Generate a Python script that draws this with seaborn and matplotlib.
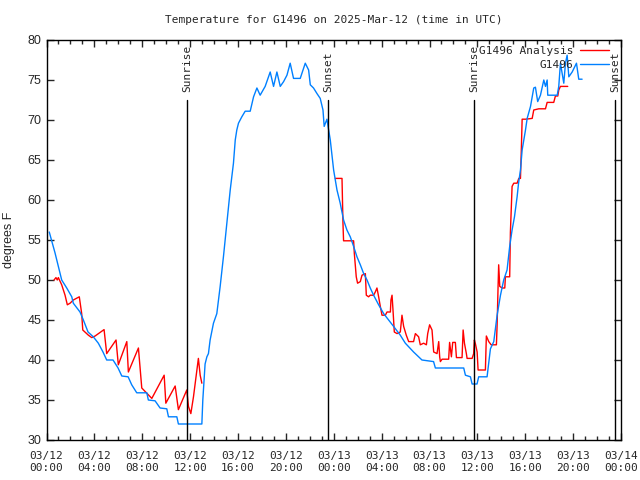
import pandas as pd
import matplotlib
matplotlib.use("Agg")
import matplotlib.pyplot as plt
import matplotlib.dates as mdates
import seaborn as sns

# hours after 2025-03-12 00:00 UTC, temperatures in degrees F
obs_hours = [0.23, 0.71, 1.27, 1.69, 2.11, 2.24, 2.80, 3.08, 3.47, 3.91, 4.33, 4.72, 5.03, 5.56,
             5.98, 6.29, 6.82, 7.12, 7.54, 8.38, 8.51, 9.07, 9.49, 10.05, 10.19, 10.89, 11.02,
             12.98, 13.06, 13.25, 13.40, 13.53, 13.67, 13.95, 14.23, 14.51, 14.79, 15.07, 15.35,
             15.62, 15.77, 15.90, 16.04, 16.32, 16.60, 17.02, 17.30, 17.58, 17.85, 18.27, 18.55,
             18.69, 18.97, 19.25, 19.53, 19.81, 20.09, 20.36, 20.64, 21.20, 21.62, 21.90, 22.04,
             22.31, 22.60, 22.87, 23.10, 23.20, 23.43, 23.71, 23.99, 24.27, 24.54, 24.82, 25.10,
             25.38, 25.66, 25.94, 26.22, 26.50, 26.78, 27.05, 27.33, 27.75, 28.17, 28.59, 29.00,
             29.56, 29.98, 30.67, 31.37, 32.34, 32.49, 34.86, 35.00, 35.42, 35.56, 35.97, 36.11,
             36.81, 37.09, 37.37, 37.65, 37.93, 38.20, 38.48, 38.70, 38.90, 39.10, 39.32, 39.44,
             39.60, 39.74, 40.02, 40.16, 40.44, 40.71, 40.85, 41.04, 41.27, 41.55, 41.69, 41.83,
             41.88, 42.67, 42.80, 42.94, 43.22, 43.36, 43.50, 43.64, 43.92, 44.28, 44.47, 44.75]
obs_temp = [56.0, 53.4, 50.0, 49.0, 47.9, 47.1, 46.0, 45.0, 43.5, 42.9, 42.1, 41.0, 40.0, 40.0,
            39.0, 38.0, 37.9, 36.9, 35.9, 35.9, 35.0, 34.9, 34.0, 33.9, 32.9, 32.9, 32.0,
            32.0, 35.0, 39.5, 40.4, 40.8, 42.5, 44.6, 45.8, 49.2, 53.0, 57.1, 61.25,
            64.6, 67.5, 68.75, 69.6, 70.4, 71.1, 71.1, 72.9, 74.0, 73.1, 74.2, 75.4,
            76.0, 74.2, 76.0, 74.2, 74.8, 75.6, 77.1, 75.2, 75.2, 77.1, 76.25, 74.4,
            74.0, 73.3, 72.7, 71.25, 69.2, 70.1, 67.5, 63.75, 61.25, 59.6, 57.5, 56.25,
            55.4, 54.2, 52.9, 51.9, 50.8, 50.0, 49.0, 48.1, 46.9, 45.8, 45.0, 44.2,
            43.1, 42.1, 41.0, 40.0, 39.8, 39.0, 39.0, 38.1, 37.9, 37.0, 37.0, 37.9,
            37.9, 41.4, 42.3, 45.6, 48.1, 50.0, 51.25, 54.2, 56.25, 57.9, 60.4, 62.1,
            63.75, 66.25, 68.75, 70.2, 71.7, 74.0, 74.1, 72.3, 73.1, 75.0, 74.2, 75.0,
            73.1, 73.1, 74.2, 77.1, 74.6, 77.1, 78.1, 75.4, 76.0, 77.1, 75.1, 75.1]

# analysis, first day (before the data gap)
ana_hours_1 = [0.63, 0.79, 0.90, 0.99, 1.27, 1.55, 1.74, 1.97, 2.24, 2.74, 2.94, 3.03, 3.50,
               3.78, 4.06, 4.81, 5.03, 5.81, 6.00, 6.71, 6.84, 7.68, 7.96, 8.80, 9.83, 9.97,
               10.75, 11.02, 11.72, 11.86, 12.06, 12.28, 12.69, 12.84, 12.98]
ana_temp_1 = [50.0, 50.3, 50.0, 50.3, 49.4, 48.1, 46.9, 47.1, 47.5, 47.9, 45.8, 43.75, 43.1,
              42.8, 43.0, 43.8, 40.8, 42.5, 39.4, 42.3, 38.5, 41.5, 36.5, 35.2, 38.1, 34.6,
              36.75, 33.8, 36.25, 34.2, 33.3, 35.4, 40.2, 38.1, 37.1]

# analysis, after the gap
ana_hours_2 = [24.13, 24.69, 24.77, 24.82, 25.66, 25.72, 25.88, 25.99, 26.22, 26.36, 26.64, 26.72,
               26.91, 27.05, 27.33, 27.47, 27.61, 27.75, 27.89, 28.03, 28.31, 28.45, 28.73, 28.78,
               28.87, 28.95, 29.06, 29.29, 29.56, 29.70, 29.84, 30.06, 30.26, 30.67, 30.82, 31.09,
               31.23, 31.51, 31.74, 31.85, 32.01, 32.21, 32.35, 32.63, 32.77, 32.85, 32.91, 33.05,
               33.60, 33.68, 33.83, 33.94, 34.16, 34.25, 34.72, 34.81, 34.92, 35.08, 35.14, 35.56,
               35.69, 35.75, 35.84, 35.98, 36.06, 36.67, 36.75, 36.95, 37.15, 37.59, 37.65, 37.73,
               37.78, 37.87, 38.07, 38.29, 38.34, 38.70, 38.76, 38.90, 39.04, 39.32, 39.46, 39.60,
               39.68, 39.74, 40.02, 40.58, 40.71, 41.13, 41.69, 41.83, 42.38, 42.52, 42.72, 42.80,
               42.94, 43.55]
ana_temp_2 = [62.7, 62.7, 57.1, 54.9, 54.9, 53.3, 50.4, 49.6, 49.8, 50.6, 50.8, 48.1,
              47.9, 48.1, 48.1, 48.5, 49.0, 47.9, 46.7, 45.6, 45.6, 46.0, 46.0, 47.5,
              48.1, 46.25, 43.5, 43.3, 43.5, 45.6, 44.2, 43.1, 42.3, 42.3, 43.3, 42.9,
              41.9, 42.1, 41.9, 43.3, 44.4, 43.75, 41.0, 40.8, 42.3, 40.4, 39.8, 40.1,
              40.1, 42.2, 40.4, 42.2, 42.2, 40.3, 40.3, 43.75, 42.1, 40.8, 40.2, 40.2,
              40.8, 42.5, 42.0, 41.0, 38.75, 38.75, 43.0, 42.3, 41.9, 41.9, 44.4, 49.2,
              51.9, 49.2, 49.0, 49.0, 50.4, 50.4, 56.0, 61.7, 62.1, 62.1, 62.7, 62.7,
              66.7, 70.1, 70.1, 70.2, 71.25, 71.4, 71.4, 72.2, 72.2, 73.0, 73.0, 73.75,
              74.2, 74.2]

sun_hours = [11.75, 23.5, 35.73, 47.5]
sun_labels = ["Sunrise", "Sunset", "Sunrise", "Sunset"]

start = pd.Timestamp("2025-03-12 00:00")


def to_frame(hours, temps):
    return pd.DataFrame({"time": start + pd.to_timedelta(hours, unit="h"), "temp": temps})


obs = to_frame(obs_hours, obs_temp)
ana1 = to_frame(ana_hours_1, ana_temp_1)
ana2 = to_frame(ana_hours_2, ana_temp_2)

sns.set_style("ticks")
plt.rcParams["font.family"] = ["DejaVu Sans Mono"]

fig = plt.figure(figsize=(6.4, 4.8), dpi=100)
ax = fig.add_axes([46.5 / 640, 40 / 480, 574.5 / 640, 400 / 480])

red = "#ff0000"
blue = "#0080ff"
sns.lineplot(data=ana1, x="time", y="temp", color=red, lw=1, ax=ax, label="G1496 Analysis")
sns.lineplot(data=ana2, x="time", y="temp", color=red, lw=1, ax=ax)
sns.lineplot(data=obs, x="time", y="temp", color=blue, lw=1, ax=ax, label="G1496")

# sunrise / sunset markers
for h, lab in zip(sun_hours, sun_labels):
    t = start + pd.Timedelta(hours=h)
    ax.plot([t, t], [30, 72.5], color="black", lw=1)
    ax.text(t, 73.5, lab, rotation=90, ha="center", va="bottom", fontsize=8)

ax.set_xlim(start, start + pd.Timedelta(hours=48))
ax.set_ylim(30, 80)
ax.xaxis.set_major_locator(mdates.HourLocator(byhour=range(0, 24, 4)))
ax.xaxis.set_minor_locator(mdates.HourLocator())
ax.xaxis.set_major_formatter(mdates.DateFormatter("%m/%d\n%H:%M"))
ax.set_yticks(range(30, 81, 5))
ax.tick_params(which="both", direction="in", top=True, right=True, width=1, labelsize=8)
ax.tick_params(which="major", length=5)
ax.tick_params(which="minor", length=3)
ax.tick_params(axis="x", pad=8)
for lab in ax.get_yticklabels():
    lab.set_family("Liberation Sans")
    lab.set_fontsize(9)
for sp in ax.spines.values():
    sp.set_linewidth(1)
    sp.set_color("black")

ax.set_xlabel("")
ax.set_ylabel("degrees F", family="Liberation Sans", fontsize=9, labelpad=9)
ax.set_title("Temperature for G1496 on 2025-Mar-12 (time in UTC)", fontsize=8, pad=12)

ax.legend(loc="upper right", bbox_to_anchor=(0.979, 0.985), frameon=False, markerfirst=False,
          fontsize=8, handlelength=2.6, labelspacing=0.35, borderaxespad=0, borderpad=0,
          handletextpad=0.6)

fig.savefig("out.png", dpi=100)
